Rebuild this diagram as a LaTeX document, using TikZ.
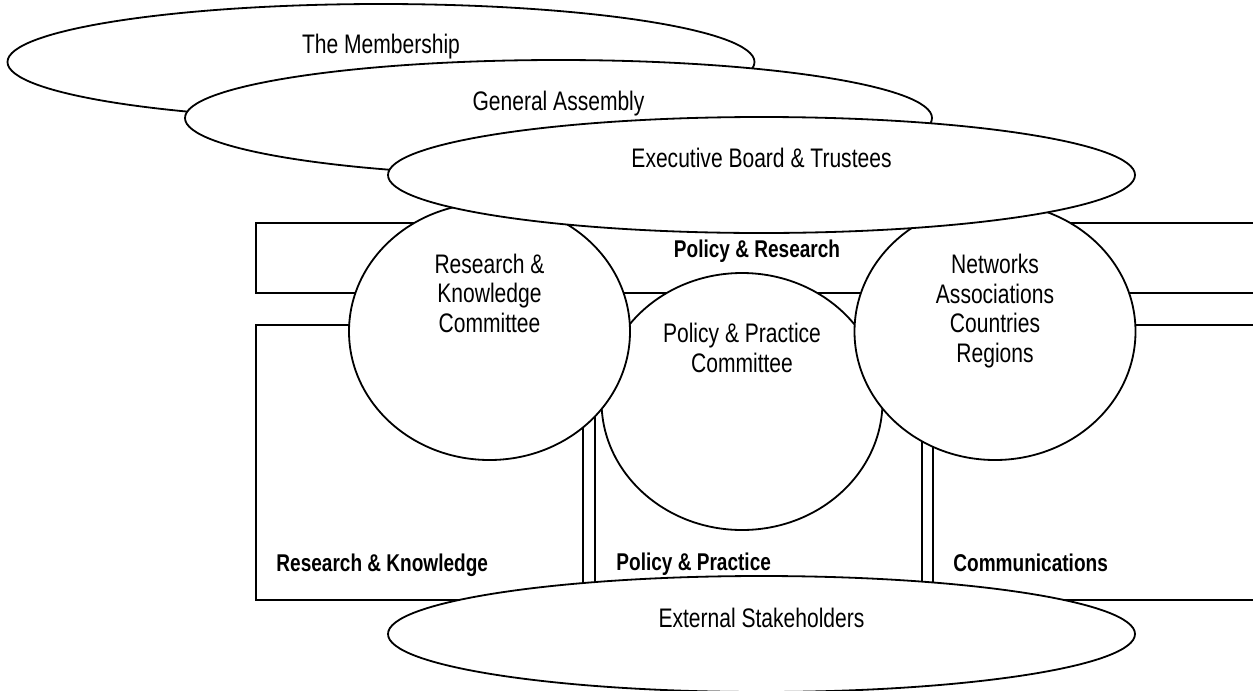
\documentclass[tikz,border=0pt]{standalone}
\usepackage{fontspec}
\setmainfont{Liberation Sans}[FakeStretch=0.785]
\usetikzlibrary{shapes.geometric}
\newcommand{\pxu}{0.47pt}
\tikzset{
  bigoval/.style={ellipse, draw, fill=white, line width=0.85pt, inner sep=0pt,
    minimum width=747*\pxu, minimum height=116*\pxu},
  committee/.style={ellipse, draw, fill=white, line width=0.85pt, inner sep=0pt,
    minimum width=281*\pxu, minimum height=257*\pxu},
  ovaltext/.style={font=\fontsize{12.6}{13.9}\selectfont, inner sep=0pt},
  circletext/.style={ovaltext, align=center},
  boxtext/.style={font=\bfseries\fontsize{11.4}{13}\selectfont, inner sep=0pt},
  frame/.style={draw, line width=0.85pt}
}

\begin{document}
\begin{tikzpicture}[x=\pxu, y=-\pxu]
    \useasboundingbox (0,0) rectangle (1253,690);

    % Unit boxes
    \draw[frame] (256,223) rectangle (1270,293);
    \draw[frame] (256,325) rectangle (583,600);
    \draw[frame] (595,325) rectangle (922,600);
    \draw[frame] (933,325) rectangle (1270,600);

    % Committees
    \node[committee] (pp) at (742,401.5) {};
    \node[committee] (rk) at (489.5,331.5) {};
    \node[committee] (net) at (995,331.5) {};

    % Governance layers
    \node[bigoval] (memb) at (381,62) {};
    \node[bigoval] (ga) at (558.5,118) {};
    \node[bigoval] (exec) at (761.5,175) {};
    \node[bigoval] (ext) at (761.5,634) {};

    % Labels
    \node[ovaltext, anchor=base] (membtxt) at (381,53) {The Membership};
    \node[ovaltext, anchor=base] (gatxt) at (558.5,110) {General Assembly};
    \node[ovaltext, anchor=base] (exectxt) at (761.5,167) {Executive Board \& Trustees};
    \node[ovaltext, anchor=base] (exttxt) at (761.5,627) {External Stakeholders};
    \node[circletext] (rktxt) at (489.5,293) {Research \&\\Knowledge\\Committee};
    \node[circletext] (pptxt) at (742,348) {Policy \& Practice\\Committee};
    \node[circletext] (nettxt) at (995,311) {Networks\\Associations\\Countries\\Regions};
    \node[boxtext, anchor=base] (prtxt) at (757,257) {Policy \& Research};
    \node[boxtext, anchor=base west] (rkbox) at (276,571) {Research \& Knowledge};
    \node[boxtext, anchor=base west] (ppbox) at (616,570) {Policy \& Practice};
    \node[boxtext, anchor=base west] (combox) at (953,571) {Communications};
\end{tikzpicture}
\end{document}
